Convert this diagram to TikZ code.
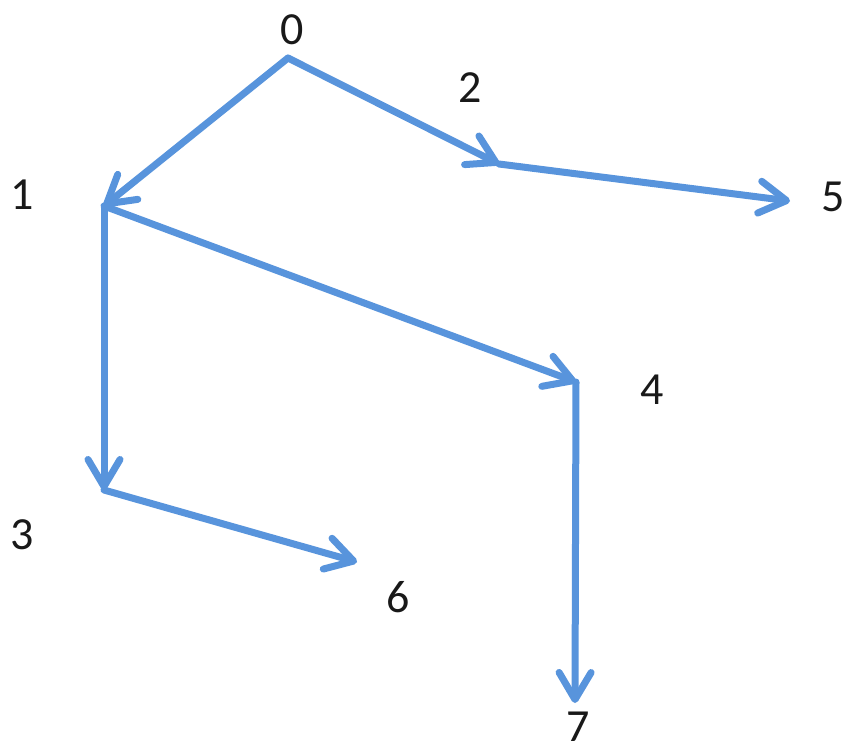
\documentclass[tikz,border=0pt]{standalone}
\usepackage{fontspec}
\setmainfont{Carlito}
\usetikzlibrary{arrows.meta}
\definecolor{edgeblue}{RGB}{88,148,220}
\definecolor{labelink}{RGB}{25,25,25}
\tikzset{
  edge/.style={draw=edgeblue, line width=7pt, line cap=round, line join=round,
    -{Straight Barb[length=27pt, width=32pt, line cap=round, line join=round]}},
  lbl/.style={text=labelink, font=\fontsize{46}{50}\selectfont, inner sep=0pt}
}
\begin{document}
\begin{tikzpicture}[x=1pt,y=1pt]
\useasboundingbox (0,0) rectangle (852,-753);
% junction points
\coordinate (p0) at (288,-58);
\coordinate (p1) at (104,-206);
\coordinate (p2) at (499,-164);
\coordinate (p5) at (790,-201);
\coordinate (p4) at (576,-382);
\coordinate (p3) at (104,-490);
\coordinate (p6) at (357,-562);
\coordinate (p7) at (575,-703);
% labels
\node[lbl] (l0) at (292,-30) {0};
\node[lbl] (l1) at (22,-195) {1};
\node[lbl] (l2) at (470,-88) {2};
\node[lbl] (l5) at (833,-197) {5};
\node[lbl] (l4) at (652,-390) {4};
\node[lbl] (l3) at (22,-535) {3};
\node[lbl] (l6) at (398,-597) {6};
\node[lbl] (l7) at (578,-727) {7};
% connectors
\draw[edge] (p0) -- (p1);
\draw[edge] (p0) -- (p2);
\draw[edge] (p2) -- (p5);
\draw[edge] (p1) -- (p4);
\draw[edge] (p1) -- (p3);
\draw[edge] (p3) -- (p6);
\draw[edge] (p4) -- (p7);
\end{tikzpicture}
\end{document}
